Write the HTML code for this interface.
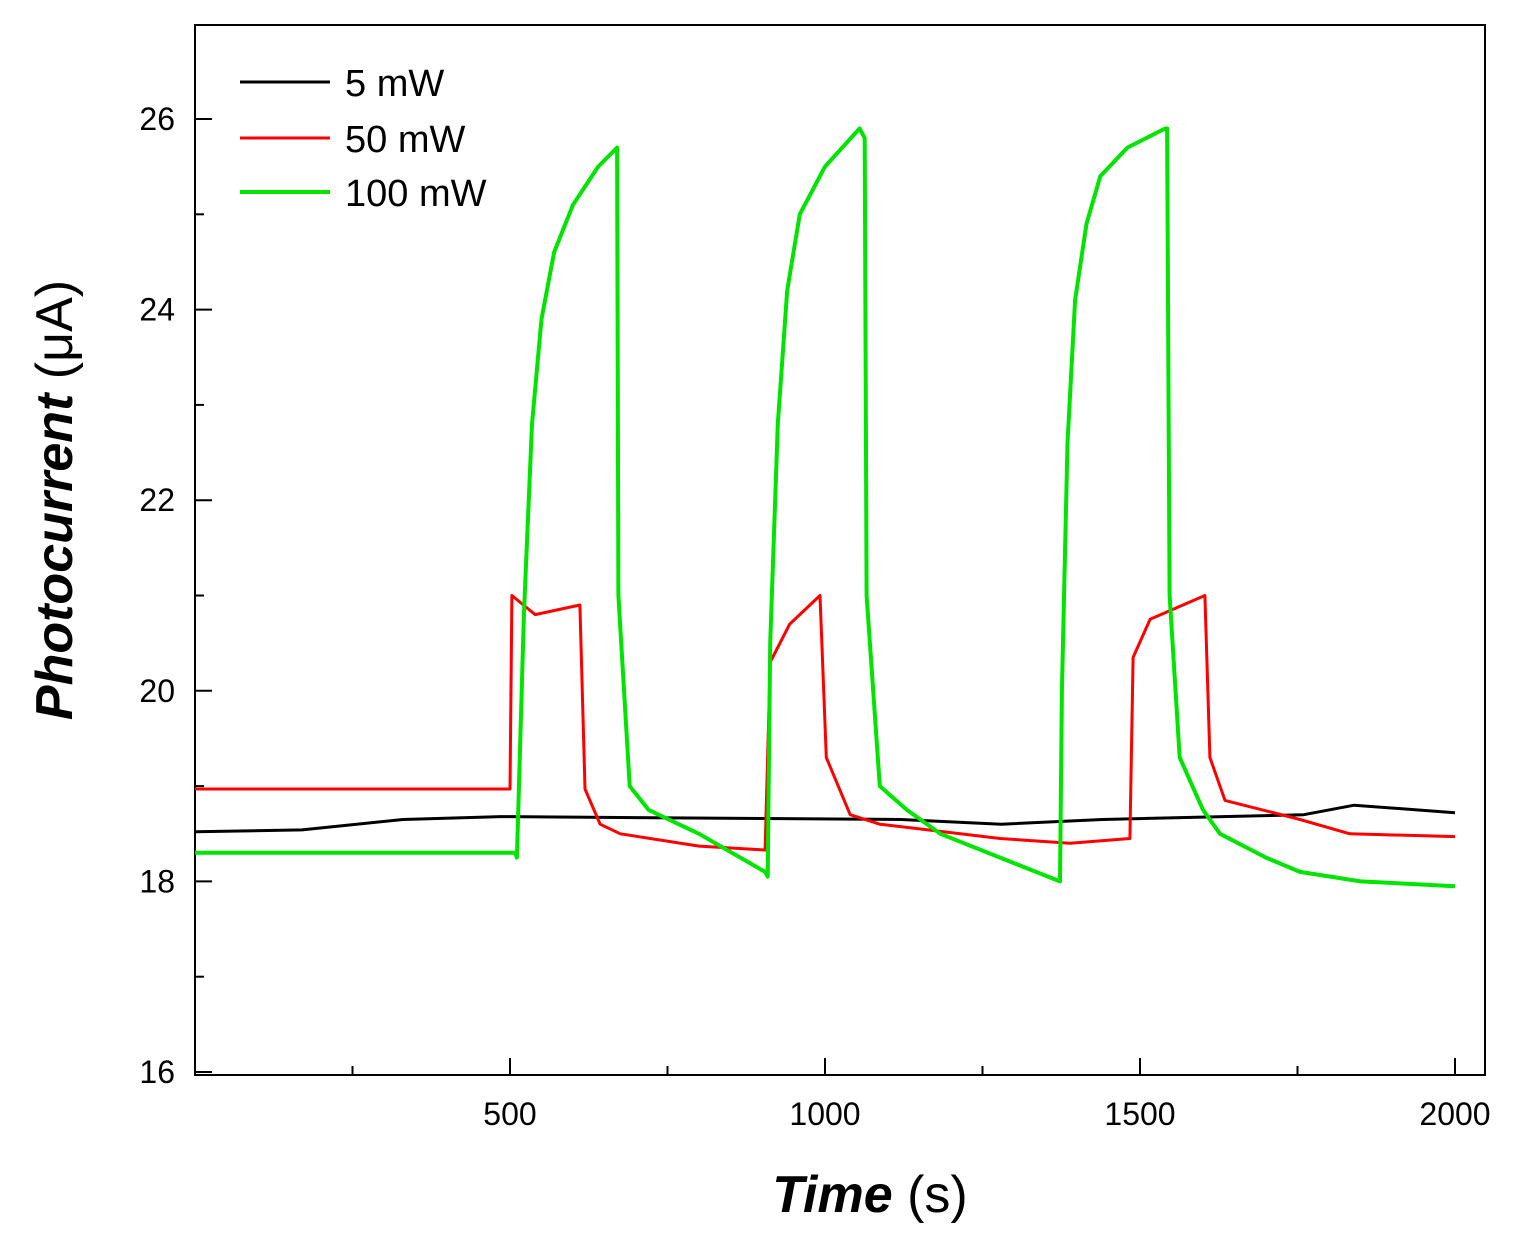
<!DOCTYPE html>
<html><head><meta charset="utf-8"><style>
html,body{margin:0;padding:0;background:#fff;}
svg{display:block;font-family:"Liberation Sans",Arial,sans-serif;}
</style></head><body>
<svg id="chart" width="1513" height="1251" viewBox="0 0 1513 1251">
<rect x="195" y="25" width="1290" height="1050" fill="none" stroke="#000" stroke-width="2"/>
<g id="ticks"></g>
<g id="series"></g>
<g>
<line x1="240" y1="82" x2="330" y2="82" stroke="#000" stroke-width="3"/>
<text x="345" y="96" font-size="38">5 mW</text>
<line x1="240" y1="138" x2="330" y2="138" stroke="#ff0000" stroke-width="3"/>
<text x="345" y="152" font-size="38">50 mW</text>
<line x1="240" y1="192" x2="330" y2="192" stroke="#00e400" stroke-width="4"/>
<text x="345" y="206" font-size="38">100 mW</text>
</g>
<text x="870" y="1212" text-anchor="middle" font-size="52"><tspan font-weight="bold" font-style="italic">Time</tspan> (s)</text>
<text transform="translate(72,500) rotate(-90)" text-anchor="middle" font-size="52"><tspan font-weight="bold" font-style="italic">Photocurrent</tspan> (μA)</text>
</svg>
<script>
const xTicks=[500,1000,1500,2000];
const xMinor=[250,750,1250,1750];
const yTicks=[16,18,20,22,24,26];
const yMinor=[17,19,21,23,25];
const blackT=[0,170,330,485,1120,1280,1440,1760,1840,2000];
const blackV=[18.52,18.54,18.65,18.68,18.65,18.6,18.65,18.7,18.8,18.72];
const redT=[0,500,503,540,611,619,643,675,800,905,913,944,992,1002,1040,1087,1278,1389,1484,1489,1516,1603,1611,1635,1754,1833,2000];
const redV=[18.97,18.97,21.0,20.8,20.9,18.97,18.6,18.5,18.37,18.33,20.3,20.7,21.0,19.3,18.7,18.6,18.45,18.4,18.45,20.35,20.75,21.0,19.3,18.85,18.65,18.5,18.47];
const greenT=[0,508,511,522,535,550,570,600,640,670,672,690,720,800,905,909,913,925,940,960,1000,1055,1063,1066,1087,1130,1183,1278,1373,1376,1385,1397,1415,1437,1480,1540,1543,1547,1563,1600,1627,1700,1754,1850,2000];
const greenV=[18.3,18.3,18.25,20.8,22.8,23.9,24.6,25.1,25.5,25.7,21.0,19.0,18.75,18.5,18.1,18.05,20.5,22.8,24.2,25.0,25.5,25.9,25.8,21.0,19.0,18.75,18.5,18.25,18.0,20.0,22.6,24.1,24.9,25.4,25.7,25.9,25.9,21.0,19.3,18.75,18.5,18.25,18.1,18.0,17.95];
const X=t=>195+t*0.63;
const Y=v=>1072-(v-16)*95.3;
const NS='http://www.w3.org/2000/svg';
const tg=document.getElementById('ticks');
function mk(tag,attrs,parent){const e=document.createElementNS(NS,tag);for(const k in attrs)e.setAttribute(k,attrs[k]);parent.appendChild(e);return e;}
xTicks.forEach(t=>{
 const l=mk('line',{x1:X(t),x2:X(t),y1:1075,y2:1058,stroke:'#000','stroke-width':2},tg);
 
 
 const s=mk('text',{x:X(t),y:1125,'text-anchor':'middle','font-size':32},tg);s.textContent=t;
 
 
});
xMinor.forEach(t=>{
 const l=mk('line',{x1:X(t),x2:X(t),y1:1075,y2:1066,stroke:'#000','stroke-width':2},tg);
 
 
});
yTicks.forEach(v=>{
 const l=mk('line',{x1:195,x2:212,y1:Y(v),y2:Y(v),stroke:'#000','stroke-width':2},tg);
 
 
 const s=mk('text',{x:175,y:Y(v)+11,'text-anchor':'end','font-size':32},tg);s.textContent=v;
 
 
});
yMinor.forEach(v=>{
 const l=mk('line',{x1:195,x2:204,y1:Y(v),y2:Y(v),stroke:'#000','stroke-width':2},tg);
 
 
});
const sg=document.getElementById('series');
function path(T,V,color,w,name){
 const d=T.map((t,i)=>(i?'L':'M')+X(t).toFixed(1)+' '+Y(V[i]).toFixed(1)).join(' ');
 const p=mk('path',{d:d,fill:'none',stroke:color,'stroke-width':w,'stroke-linejoin':'round'},sg);
 
 
}
path(blackT,blackV,'#000',3,'series-5mw');
path(redT,redV,'#ff0000',3,'series-50mw');
path(greenT,greenV,'#00e400',4,'series-100mw');
</script>
</body></html>
